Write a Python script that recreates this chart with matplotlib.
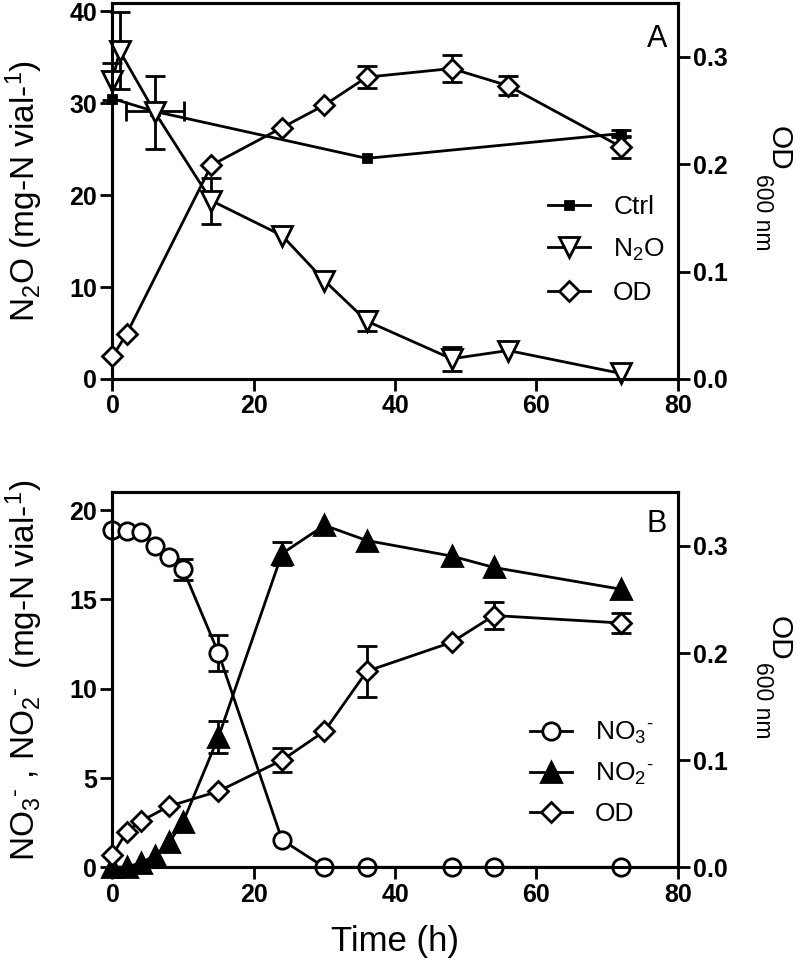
import numpy as np
import matplotlib
matplotlib.use("Agg")
import matplotlib.pyplot as plt

plt.rcParams["font.family"] = ["Liberation Sans", "DejaVu Sans"]
plt.rcParams["mathtext.fontset"] = "custom"
plt.rcParams["mathtext.rm"] = "Liberation Sans"
plt.rcParams["mathtext.it"] = "Liberation Sans:italic"
plt.rcParams["mathtext.bf"] = "Liberation Sans:bold"

# --- Panel A: N2O reduction ---
a_ctrl_t = [0, 6, 36, 72]
a_ctrl = [30.5, 29.1, 24.0, 26.7]
a_ctrl_xerr = [0, 4.1, 0, 0]
a_ctrl_err = [0, 0, 0, 0.4]

a_n2o_t = [0, 1, 6, 14, 24, 30, 36, 48, 56, 72]
a_n2o = [32.4, 35.7, 29.0, 19.4, 15.6, 10.7, 6.3, 2.2, 3.1, 0.6]
a_n2o_err = [2.0, 4.2, 4.0, 2.5, 0, 0, 1.1, 1.3, 0, 0]

a_od_t = [0, 2, 14, 24, 30, 36, 48, 56, 72]
a_od = [0.021, 0.042, 0.199, 0.234, 0.255, 0.281, 0.289, 0.273, 0.216]
a_od_err = [0, 0, 0, 0, 0, 0.010, 0.0125, 0.009, 0.010]

# --- Panel B: nitrate / nitrite ---
b_t = [0, 2, 4, 6, 8, 10, 15, 24, 30, 36, 48, 54, 72]
b_no3 = [18.87, 18.84, 18.78, 17.98, 17.38, 16.68, 12.0, 1.53, 0, 0, 0, 0, 0]
b_no3_err = [0, 0, 0, 0, 0, 0.6, 1.0, 0, 0, 0, 0, 0, 0]
b_no2 = [0, 0.02, 0.25, 0.65, 1.4, 2.55, 7.3, 17.57, 19.15, 18.3, 17.43, 16.79, 15.57]
b_no2_err = [0, 0, 0, 0, 0, 0, 0.9, 0.65, 0, 0, 0, 0, 0]

b_od_t = [0, 2, 4, 8, 15, 24, 30, 36, 48, 54, 72]
b_od = [0.0115, 0.033, 0.043, 0.057, 0.071, 0.100, 0.127, 0.183, 0.210, 0.235, 0.228]
b_od_err = [0, 0, 0, 0, 0, 0.011, 0, 0.024, 0, 0.0125, 0.009]

x_ticks = [0, 20, 40, 60, 80]
a_left_ticks = [0, 10, 20, 30, 40]
b_left_ticks = [0, 5, 10, 15, 20]
od_ticks = [0.0, 0.1, 0.2, 0.3]
od_tick_labels = ["0.0", "0.1", "0.2", "0.3"]

# short hyphen as the ion charge, like the original figure
NO3 = "NO$_\\mathregular{3}$$^\\mathregular{\u2010}$"
NO2 = "NO$_\\mathregular{2}$$^\\mathregular{\u2010}$"
N2O = r"N$_\mathregular{2}$O"

W, H = 796, 966


def series(ax, t, y, err, marker, ms, face, label):
    ax.plot(t, y, color="black", lw=2, marker=marker, ms=ms, mfc=face,
            mec="black", mew=2, clip_on=False, label=label, zorder=3)
    t, y, err = np.asarray(t), np.asarray(y), np.asarray(err)
    m = err > 0
    if m.any():
        ax.errorbar(t[m], y[m], yerr=err[m], fmt="none", ecolor="black",
                    elinewidth=2, capsize=7, capthick=2, clip_on=False, zorder=2)


def style(ax, ax2, yticks, ylim):
    ax.set_xlim(0, 80)
    ax.set_ylim(*ylim)
    ax.set_xticks(x_ticks)
    ax.set_yticks(yticks)
    ax2.set_ylim(0, 0.35)
    ax2.set_yticks(od_ticks)
    ax2.set_yticklabels(od_tick_labels)
    for a in (ax, ax2):
        for s in a.spines.values():
            s.set_linewidth(2.2)
        a.tick_params(direction="out", length=8.5, width=2, labelsize=18, pad=2.5)
        for lbl in a.get_xticklabels() + a.get_yticklabels():
            lbl.set_fontweight("bold")


def right_label(y_top_od, y_top_sub):
    fig.text(779 / W, 1 - y_top_od / H, "OD", rotation=270, fontsize=21.5,
             ha="center", va="top")
    fig.text(763 / W, 1 - y_top_sub / H, "600 nm", rotation=270, fontsize=16.5,
             ha="center", va="top")


fig = plt.figure(figsize=(W / 100, H / 100), dpi=100)
ax_a = fig.add_axes([112.5 / W, 1 - 379 / H, 565.2 / W, 376 / H])
ax_a2 = ax_a.twinx()
ax_b = fig.add_axes([112.5 / W, 1 - 867.3 / H, 565.2 / W, 375 / H])
ax_b2 = ax_b.twinx()

# panel A
series(ax_a, a_ctrl_t, a_ctrl, a_ctrl_err, "s", 6, "black", "Ctrl")
ax_a.errorbar(np.asarray(a_ctrl_t)[1:2], np.asarray(a_ctrl)[1:2],
              xerr=np.asarray(a_ctrl_xerr)[1:2], fmt="none", ecolor="black",
              elinewidth=2, capsize=7, capthick=2, zorder=2)
series(ax_a, a_n2o_t, a_n2o, a_n2o_err, "v", 15, "white", N2O)
series(ax_a2, a_od_t, a_od, a_od_err, "D", 10.5, "white", "OD")
style(ax_a, ax_a2, a_left_ticks, (0, 40.9))
ax_a.set_ylabel(N2O + r" (mg-N vial-$^\mathregular{1}$)", fontsize=24)
ax_a.yaxis.set_label_coords(-0.12, 0.5)
ax_a.text(0.981, 0.883, "A", transform=ax_a.transAxes, ha="right",
          va="baseline", fontsize=22)
h1, l1 = ax_a.get_legend_handles_labels()
h2, l2 = ax_a2.get_legend_handles_labels()
ax_a2.legend(h1 + h2, l1 + l2, loc="upper left", bbox_to_anchor=(0.7705, 0.49),
             frameon=False, fontsize=19, handlelength=1.6, handletextpad=0.87,
             labelspacing=0.68, borderpad=0, borderaxespad=0)
right_label(126, 174)

# panel B
series(ax_b, b_t, b_no2, b_no2_err, "^", 15, "black", NO2)
series(ax_b, b_t, b_no3, b_no3_err, "o", 12.5, "white", NO3)
series(ax_b2, b_od_t, b_od, b_od_err, "D", 10.5, "white", "OD")
style(ax_b, ax_b2, b_left_ticks, (0, 21))
ax_b.set_ylabel(NO3 + " , " + NO2 + r"  (mg-N vial-$^\mathregular{1}$)", fontsize=24)
ax_b.yaxis.set_label_coords(-0.12, 0.525)
ax_b.set_xlabel("Time (h)", fontsize=25)
ax_b.xaxis.set_label_coords(0.5, -0.154)
ax_b.text(0.981, 0.894, "B", transform=ax_b.transAxes, ha="right",
          va="baseline", fontsize=22)
h1, l1 = ax_b.get_legend_handles_labels()
h2, l2 = ax_b2.get_legend_handles_labels()
order = [1, 0, 2]
hb, lb = [(h1 + h2)[i] for i in order], [(l1 + l2)[i] for i in order]
ax_b2.legend(hb, lb, loc="upper left", bbox_to_anchor=(0.7387, 0.393),
             frameon=False, fontsize=19, handlelength=1.6, handletextpad=0.87,
             labelspacing=0.57, borderpad=0, borderaxespad=0)
right_label(616, 662)

fig.savefig("out.png", dpi=100)
